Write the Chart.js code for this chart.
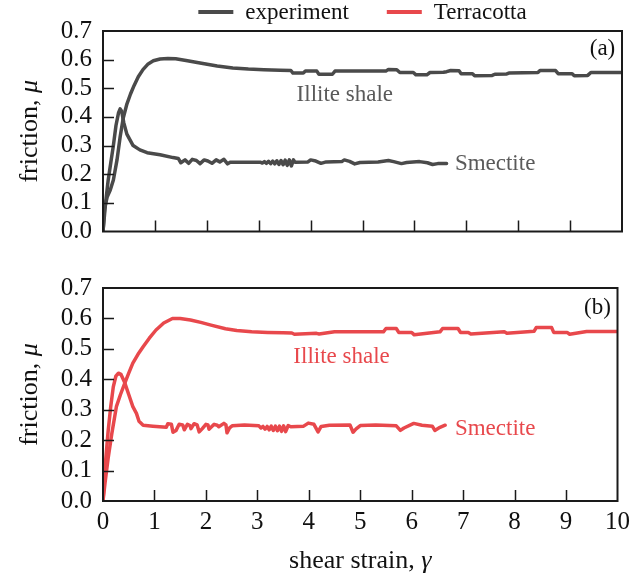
<!DOCTYPE html>
<html>
<head>
<meta charset="utf-8">
<script src="https://cdn.jsdelivr.net/npm/chart.js@4"></script>
<style>
  html, body { margin: 0; padding: 0; background: #fff; }
  #wrap { position: relative; width: 636px; height: 578px; overflow: hidden; }
  .panel { position: absolute; left: 0; width: 636px; }
</style>
</head>
<body>
<div id="wrap">
  <div class="panel" style="top:0;height:255px"><canvas id="chartA"></canvas></div>
  <div class="panel" style="top:250px;height:328px"><canvas id="chartB"></canvas></div>
</div>
<script>
// (a) experiment
const strainExpIllite = [0, 0.03, 0.08, 0.14, 0.2, 0.27, 0.33, 0.39, 0.46, 0.53, 0.6, 0.68, 0.77, 0.87, 0.97, 1.1, 1.25, 1.4, 1.6, 1.87, 2.2, 2.5, 2.8, 3.1, 3.41,
  3.62, 3.66, 3.86, 3.9, 4.12, 4.16, 4.42, 4.47, 5.45, 5.5, 5.66, 5.72, 5.98, 6.03, 6.24, 6.3, 6.56, 6.62, 6.7, 6.86, 6.9, 7.12, 7.16, 7.5, 7.55,
  7.78, 7.82, 8.38, 8.42, 8.72, 8.77, 9.04, 9.08, 9.34, 9.4, 10];
const fricExpIllite = [0, 0.08, 0.12, 0.145, 0.18, 0.25, 0.33, 0.396, 0.445, 0.48, 0.51, 0.54, 0.565, 0.585, 0.596, 0.602, 0.604, 0.603, 0.597, 0.588, 0.578, 0.571, 0.567, 0.565, 0.563,
  0.562, 0.553, 0.553, 0.56, 0.56, 0.549, 0.549, 0.56, 0.56, 0.566, 0.565, 0.555, 0.555, 0.547, 0.547, 0.555, 0.556, 0.558, 0.562, 0.561, 0.551, 0.551, 0.544, 0.545, 0.549,
  0.55, 0.553, 0.555, 0.562, 0.562, 0.551, 0.551, 0.544, 0.545, 0.555, 0.555];

const strainExpSmectite = [0, 0.05, 0.1, 0.15, 0.2, 0.25, 0.3, 0.33, 0.36, 0.4, 0.46, 0.52, 0.58, 0.71, 0.85, 1.1, 1.35,
  1.45, 1.5, 1.58, 1.65, 1.72, 1.8, 1.87, 1.95, 2.02, 2.1, 2.18, 2.25, 2.33, 2.4, 2.45, 3.03,
  3.07, 3.11, 3.15, 3.19, 3.23, 3.27, 3.31, 3.35, 3.39, 3.43, 3.47, 3.51, 3.55, 3.59, 3.63, 3.67, 3.7,
  3.95, 4.0, 4.1, 4.2, 4.3, 4.6, 4.65, 4.75, 4.85, 4.95, 5.3, 5.5, 5.6, 5.75, 5.85, 6.1, 6.25, 6.35, 6.45, 6.62];
const fricExpSmectite = [0, 0.1, 0.18, 0.24, 0.3, 0.37, 0.415, 0.428, 0.42, 0.38, 0.34, 0.32, 0.3, 0.285, 0.275, 0.268, 0.258,
  0.255, 0.24, 0.25, 0.238, 0.252, 0.248, 0.237, 0.25, 0.246, 0.238, 0.25, 0.243, 0.252, 0.236, 0.242, 0.242,
  0.239, 0.244, 0.238, 0.245, 0.237, 0.246, 0.236, 0.247, 0.234, 0.248, 0.233, 0.249, 0.231, 0.25, 0.229, 0.25, 0.242,
  0.243, 0.25, 0.246, 0.238, 0.243, 0.244, 0.25, 0.245, 0.236, 0.241, 0.243, 0.248, 0.244, 0.237, 0.241, 0.244, 0.24, 0.234, 0.237, 0.237];

// (b) Terracotta
const strainTerIllite = [0, 0.04, 0.1, 0.17, 0.26, 0.34, 0.42, 0.5, 0.58, 0.68, 0.78, 0.9, 1.03, 1.18, 1.35, 1.5, 1.7, 1.9, 2.1, 2.38, 2.6, 2.89, 3.2, 3.5,
  3.67, 3.72, 4.15, 4.2, 4.5, 5.45, 5.5, 5.7, 5.75, 6.0, 6.05, 6.55, 6.6, 6.9, 6.95, 7.1, 7.15, 7.8, 7.85, 8.38, 8.42, 8.72, 8.76, 9.02, 9.07, 9.4, 10];
const fricTerIllite = [0, 0.06, 0.14, 0.22, 0.31, 0.35, 0.386, 0.42, 0.453, 0.482, 0.507, 0.535, 0.562, 0.585, 0.6, 0.6, 0.595, 0.587, 0.578, 0.566, 0.56, 0.556, 0.554, 0.553,
  0.552, 0.548, 0.551, 0.549, 0.556, 0.556, 0.567, 0.567, 0.554, 0.554, 0.546, 0.556, 0.567, 0.567, 0.554, 0.554, 0.549, 0.556, 0.551, 0.558, 0.57, 0.57, 0.554, 0.554, 0.548, 0.557, 0.557];

const strainTerSmectite = [0, 0.05, 0.1, 0.15, 0.2, 0.25, 0.3, 0.35, 0.42, 0.5, 0.58, 0.65, 0.7, 0.78, 0.97, 1.23,
  1.26, 1.33, 1.36, 1.42, 1.48, 1.55, 1.58, 1.64, 1.69, 1.71, 1.77, 1.83, 1.87, 1.93, 2.0, 2.04, 2.06, 2.16, 2.22, 2.25, 2.35, 2.39, 2.41, 2.46, 2.51, 2.75, 3.03,
  3.07, 3.11, 3.15, 3.19, 3.23, 3.27, 3.31, 3.35, 3.39, 3.43, 3.47, 3.51, 3.55, 3.6,
  3.65, 3.9, 3.99, 4.1, 4.18, 4.24, 4.4, 4.8, 4.86, 4.92, 5.0, 5.3, 5.7, 5.78, 5.85, 6.04, 6.2, 6.4, 6.45, 6.55, 6.65];
const fricTerSmectite = [0, 0.13, 0.23, 0.31, 0.375, 0.41, 0.42, 0.416, 0.39, 0.35, 0.31, 0.288, 0.262, 0.249, 0.246, 0.242,
  0.254, 0.252, 0.226, 0.232, 0.252, 0.25, 0.234, 0.252, 0.248, 0.238, 0.254, 0.25, 0.227, 0.238, 0.252, 0.25, 0.236, 0.252, 0.249, 0.244, 0.255, 0.25, 0.224, 0.24, 0.247, 0.25, 0.247,
  0.24, 0.245, 0.236, 0.245, 0.234, 0.246, 0.232, 0.246, 0.231, 0.246, 0.229, 0.247, 0.228, 0.248,
  0.244, 0.246, 0.256, 0.252, 0.227, 0.245, 0.249, 0.25, 0.226, 0.237, 0.248, 0.25, 0.247, 0.232, 0.24, 0.255, 0.249, 0.246, 0.232, 0.242, 0.249];

const legendNames = ['experiment', 'Terracotta'];
const grey = '#4a4a4a';
const red = '#e8484c';
const serif = '"Liberation Serif", "DejaVu Serif", serif';

Chart.defaults.font.family = serif;
Chart.defaults.color = '#111';

const pts = (xs, ys) => xs.map((x, i) => ({ x: x, y: ys[i] }));

const line = (label, xs, ys, color) => ({
  label: label,
  data: pts(xs, ys),
  borderColor: color,
  backgroundColor: color,
  borderWidth: 3.5,
  pointRadius: 0,
  fill: false,
  tension: 0,
  borderJoinStyle: 'round',
  borderCapStyle: 'round'
});

// frame, inward ticks, notes, legend and axis titles
const framePlugin = {
  id: 'frame',
  afterDatasetsDraw(chart, args, opts) {
    const { ctx, chartArea: a, scales: { x, y } } = chart;
    ctx.save();
    ctx.strokeStyle = '#1a1a1a';
    ctx.lineWidth = 1.5;
    ctx.beginPath();
    y.ticks.forEach(t => {
      if (t.value <= y.min || t.value >= y.max - 1e-9) return;
      const py = Math.round(y.getPixelForValue(t.value)) + 0.5;
      ctx.moveTo(a.left, py);
      ctx.lineTo(a.left + 11, py);
    });
    x.ticks.forEach(t => {
      if (t.value <= x.min || t.value >= x.max) return;
      const px = Math.round(x.getPixelForValue(t.value)) + 0.5;
      ctx.moveTo(px, a.bottom);
      ctx.lineTo(px, a.bottom - 11);
    });
    ctx.stroke();
    ctx.lineWidth = 2;
    ctx.strokeRect(a.left, a.top, a.right - a.left, a.bottom - a.top);

    ctx.textBaseline = 'middle';
    (opts.notes || []).forEach(n => {
      ctx.font = '23px ' + serif;
      ctx.fillStyle = n.color;
      ctx.textAlign = n.align;
      ctx.fillText(n.text, x.getPixelForValue(n.x), y.getPixelForValue(n.y));
    });

    if (opts.legend) {
      // centred row of line keys above the top panel
      ctx.font = '23px ' + serif;
      ctx.textAlign = 'left';
      const colors = [grey, red];
      const keyW = 35, gap = 12, between = 38;
      const widths = legendNames.map(n => keyW + gap + ctx.measureText(n).width);
      const total = widths.reduce((s, w) => s + w, 0) + between;
      let cx = (a.left + a.right) / 2 - total / 2;
      const cy = 12;
      legendNames.forEach((n, i) => {
        ctx.fillStyle = colors[i];
        ctx.fillRect(cx, cy - 2, keyW, 4);
        ctx.fillStyle = '#111';
        ctx.fillText(n, cx + keyW + gap, cy + 1);
        cx += widths[i] + between;
      });
    }

    const drawMixed = (plain, ital, cx, cy, rotate) => {
      ctx.save();
      ctx.translate(cx, cy);
      if (rotate) ctx.rotate(-Math.PI / 2);
      ctx.textBaseline = 'alphabetic';
      ctx.textAlign = 'left';
      ctx.fillStyle = '#111';
      ctx.font = '26px ' + serif;
      const w1 = ctx.measureText(plain).width;
      ctx.font = 'italic 26px ' + serif;
      const w2 = ctx.measureText(ital).width;
      const x0 = -(w1 + w2) / 2;
      ctx.font = '26px ' + serif;
      ctx.fillText(plain, x0, 0);
      ctx.font = 'italic 26px ' + serif;
      ctx.fillText(ital, x0 + w1, 0);
      ctx.restore();
    };
    drawMixed('friction, ', 'μ', 37, (a.top + a.bottom) / 2, true);
    if (opts.xTitle) {
      drawMixed('shear strain, ', 'γ', (a.left + a.right) / 2, a.bottom + 67, false);
    }
    ctx.restore();
  }
};

const yAxis = {
  type: 'linear',
  min: 0,
  max: 0.7,
  grid: { display: false, drawTicks: false },
  border: { display: false },
  ticks: {
    stepSize: 0.1, autoSkip: false, padding: 11,
    font: { family: serif, size: 25, lineHeight: 1 },
    callback: v => v.toFixed(1)
  },
  afterFit: s => { s.width = 103; }
};

new Chart('chartA', {
  type: 'line',
  data: {
    datasets: [
      line('Illite shale', strainExpIllite, fricExpIllite, grey),
      line('Smectite', strainExpSmectite, fricExpSmectite, grey)
    ]
  },
  options: {
    responsive: true,
    maintainAspectRatio: false,
    animation: false,
    layout: { padding: { top: 31, right: 14, bottom: 12, left: 0 } },
    scales: {
      x: {
        type: 'linear', min: 0, max: 10,
        grid: { display: false, drawTicks: false },
        border: { display: false },
        ticks: { stepSize: 1, display: false },
        afterFit: s => { s.height = 0; }
      },
      y: yAxis
    },
    plugins: {
      legend: { display: false },
      tooltip: { enabled: false },
      frame: {
        legend: true,
        notes: [
          { text: 'Illite shale', x: 3.73, y: 0.475, align: 'left', color: '#5a5a5a' },
          { text: 'Smectite', x: 6.78, y: 0.236, align: 'left', color: '#5a5a5a' },
          { text: '(a)', x: 9.87, y: 0.637, align: 'right', color: '#111' }
        ]
      }
    }
  },
  plugins: [framePlugin]
});

new Chart('chartB', {
  type: 'line',
  data: {
    datasets: [
      line('Illite shale', strainTerIllite, fricTerIllite, red),
      line('Smectite', strainTerSmectite, fricTerSmectite, red)
    ]
  },
  options: {
    responsive: true,
    maintainAspectRatio: false,
    animation: false,
    layout: { padding: { top: 38, right: 14, bottom: 0, left: 0 } },
    scales: {
      x: {
        type: 'linear', min: 0, max: 10,
        grid: { display: false, drawTicks: false },
        border: { display: false },
        ticks: { stepSize: 1, padding: 6, font: { family: serif, size: 25 } },
        afterFit: s => { s.height = 77; }
      },
      y: yAxis
    },
    plugins: {
      legend: { display: false },
      tooltip: { enabled: false },
      frame: {
        xTitle: true,
        notes: [
          { text: 'Illite shale', x: 3.70, y: 0.474, align: 'left', color: red },
          { text: 'Smectite', x: 6.84, y: 0.238, align: 'left', color: red },
          { text: '(b)', x: 9.87, y: 0.634, align: 'right', color: '#111' }
        ]
      }
    }
  },
  plugins: [framePlugin]
});
</script>
</body>
</html>
